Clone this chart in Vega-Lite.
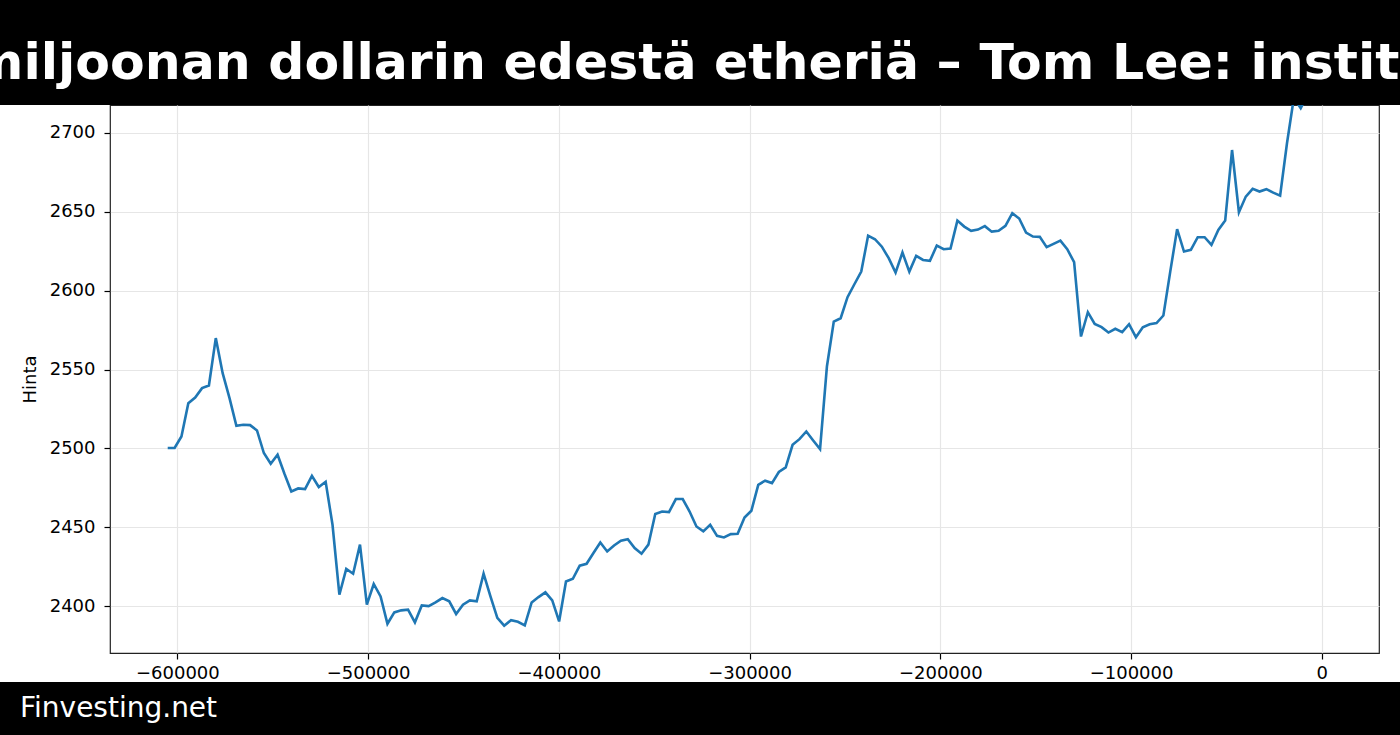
{
  "$schema": "https://vega.github.io/schema/vega-lite/v6.json",
  "autosize": "none",
  "width": 1269,
  "height": 548,
  "padding": {"left": 110, "top": 105, "right": 21, "bottom": 82},
  "background": "white",
  "config": {
    "font": "DejaVu Sans",
    "view": {"stroke": "#222", "strokeWidth": 1.2}
  },
  "layer": [
    {
      "data": {"values": [
        {"t": -605040, "hinta": 2500.3}, {"t": -601440, "hinta": 2500.3}, {"t": -597840, "hinta": 2507.6},
        {"t": -594240, "hinta": 2528.7}, {"t": -590640, "hinta": 2532.3}, {"t": -587040, "hinta": 2538.2},
        {"t": -583440, "hinta": 2539.9}, {"t": -579840, "hinta": 2569.9}, {"t": -576240, "hinta": 2547.7},
        {"t": -572640, "hinta": 2531.9}, {"t": -569040, "hinta": 2514.4}, {"t": -565440, "hinta": 2515.0},
        {"t": -561840, "hinta": 2514.8}, {"t": -558240, "hinta": 2511.4}, {"t": -554640, "hinta": 2497.1},
        {"t": -551040, "hinta": 2490.3}, {"t": -547440, "hinta": 2496.0}, {"t": -543840, "hinta": 2484.0},
        {"t": -540240, "hinta": 2472.8}, {"t": -536640, "hinta": 2474.7}, {"t": -533040, "hinta": 2474.3},
        {"t": -529440, "hinta": 2482.7}, {"t": -525840, "hinta": 2475.6}, {"t": -522240, "hinta": 2478.9},
        {"t": -518640, "hinta": 2451.7}, {"t": -515040, "hinta": 2407.4}, {"t": -511440, "hinta": 2423.7},
        {"t": -507840, "hinta": 2420.7}, {"t": -504240, "hinta": 2439.1}, {"t": -500640, "hinta": 2401.1},
        {"t": -497040, "hinta": 2414.2}, {"t": -493440, "hinta": 2406.3}, {"t": -489840, "hinta": 2389.0},
        {"t": -486240, "hinta": 2396.2}, {"t": -482640, "hinta": 2397.5}, {"t": -479040, "hinta": 2397.9},
        {"t": -475440, "hinta": 2389.9}, {"t": -471840, "hinta": 2400.6}, {"t": -468240, "hinta": 2400.2},
        {"t": -464640, "hinta": 2402.5}, {"t": -461040, "hinta": 2405.3}, {"t": -457440, "hinta": 2403.2},
        {"t": -453840, "hinta": 2395.2}, {"t": -450240, "hinta": 2401.1}, {"t": -446640, "hinta": 2403.8},
        {"t": -443040, "hinta": 2403.2}, {"t": -439440, "hinta": 2420.7}, {"t": -435840, "hinta": 2406.3},
        {"t": -432240, "hinta": 2392.7}, {"t": -428640, "hinta": 2387.8}, {"t": -425040, "hinta": 2391.3},
        {"t": -421440, "hinta": 2390.3}, {"t": -417840, "hinta": 2388.0}, {"t": -414240, "hinta": 2402.5},
        {"t": -410640, "hinta": 2405.9}, {"t": -407040, "hinta": 2408.9}, {"t": -403440, "hinta": 2403.8},
        {"t": -399840, "hinta": 2390.5}, {"t": -396240, "hinta": 2415.8}, {"t": -392640, "hinta": 2417.5},
        {"t": -389040, "hinta": 2425.8}, {"t": -385440, "hinta": 2427.0}, {"t": -381840, "hinta": 2433.8},
        {"t": -378240, "hinta": 2440.5}, {"t": -374640, "hinta": 2434.8}, {"t": -371040, "hinta": 2438.6},
        {"t": -367440, "hinta": 2441.6}, {"t": -363840, "hinta": 2442.6}, {"t": -360240, "hinta": 2437.0},
        {"t": -356640, "hinta": 2433.4}, {"t": -353040, "hinta": 2439.1}, {"t": -349440, "hinta": 2458.5},
        {"t": -345840, "hinta": 2460.1}, {"t": -342240, "hinta": 2459.7}, {"t": -338640, "hinta": 2468.0},
        {"t": -335040, "hinta": 2468.0}, {"t": -331440, "hinta": 2460.1}, {"t": -327840, "hinta": 2450.6},
        {"t": -324240, "hinta": 2447.5}, {"t": -320640, "hinta": 2451.7}, {"t": -317040, "hinta": 2444.7},
        {"t": -313440, "hinta": 2443.7}, {"t": -309840, "hinta": 2445.8}, {"t": -306240, "hinta": 2446.0},
        {"t": -302640, "hinta": 2456.3}, {"t": -299040, "hinta": 2460.6}, {"t": -295440, "hinta": 2477.0},
        {"t": -291840, "hinta": 2479.6}, {"t": -288240, "hinta": 2478.1}, {"t": -284640, "hinta": 2485.1},
        {"t": -281040, "hinta": 2488.0}, {"t": -277440, "hinta": 2502.3}, {"t": -273840, "hinta": 2505.9},
        {"t": -270240, "hinta": 2510.8}, {"t": -266640, "hinta": 2505.1}, {"t": -263040, "hinta": 2499.6},
        {"t": -259440, "hinta": 2551.9}, {"t": -255840, "hinta": 2580.4}, {"t": -252240, "hinta": 2582.5},
        {"t": -248640, "hinta": 2595.8}, {"t": -245040, "hinta": 2604.0}, {"t": -241440, "hinta": 2612.0},
        {"t": -237840, "hinta": 2634.8}, {"t": -234240, "hinta": 2632.5}, {"t": -230640, "hinta": 2627.8},
        {"t": -227040, "hinta": 2620.5}, {"t": -223440, "hinta": 2611.4}, {"t": -219840, "hinta": 2624.1},
        {"t": -216240, "hinta": 2612.0}, {"t": -212640, "hinta": 2622.0}, {"t": -209040, "hinta": 2619.4},
        {"t": -205440, "hinta": 2618.8}, {"t": -201840, "hinta": 2628.5}, {"t": -198240, "hinta": 2626.2},
        {"t": -194640, "hinta": 2626.6}, {"t": -191040, "hinta": 2644.3}, {"t": -187440, "hinta": 2640.5},
        {"t": -183840, "hinta": 2637.8}, {"t": -180240, "hinta": 2638.6}, {"t": -176640, "hinta": 2640.8},
        {"t": -173040, "hinta": 2637.3}, {"t": -169440, "hinta": 2637.8}, {"t": -165840, "hinta": 2641.0},
        {"t": -162240, "hinta": 2649.0}, {"t": -158640, "hinta": 2645.6}, {"t": -155040, "hinta": 2636.7},
        {"t": -151440, "hinta": 2634.2}, {"t": -147840, "hinta": 2634.0}, {"t": -144240, "hinta": 2627.5},
        {"t": -140640, "hinta": 2629.6}, {"t": -137040, "hinta": 2631.6}, {"t": -133440, "hinta": 2626.2},
        {"t": -129840, "hinta": 2618.0}, {"t": -126240, "hinta": 2570.9}, {"t": -122640, "hinta": 2586.3},
        {"t": -119040, "hinta": 2578.9}, {"t": -115440, "hinta": 2576.8}, {"t": -111840, "hinta": 2573.4},
        {"t": -108240, "hinta": 2575.8}, {"t": -104640, "hinta": 2573.7}, {"t": -101040, "hinta": 2578.7},
        {"t": -97440, "hinta": 2570.5}, {"t": -93840, "hinta": 2576.8}, {"t": -90240, "hinta": 2578.7},
        {"t": -86640, "hinta": 2579.4}, {"t": -83040, "hinta": 2584.2}, {"t": -79440, "hinta": 2612.0},
        {"t": -75840, "hinta": 2638.9}, {"t": -72240, "hinta": 2624.7}, {"t": -68640, "hinta": 2625.8},
        {"t": -65040, "hinta": 2633.8}, {"t": -61440, "hinta": 2633.8}, {"t": -57840, "hinta": 2628.9},
        {"t": -54240, "hinta": 2638.4}, {"t": -50640, "hinta": 2644.3}, {"t": -47040, "hinta": 2689.0},
        {"t": -43440, "hinta": 2649.6}, {"t": -39840, "hinta": 2659.5}, {"t": -36240, "hinta": 2664.4},
        {"t": -32640, "hinta": 2662.7}, {"t": -29040, "hinta": 2664.2}, {"t": -25440, "hinta": 2662.0},
        {"t": -21840, "hinta": 2660.1}, {"t": -18240, "hinta": 2693.3}, {"t": -14640, "hinta": 2722.0},
        {"t": -11040, "hinta": 2715.5}, {"t": -7440, "hinta": 2724.0}, {"t": -3840, "hinta": 2729.0},
        {"t": -240, "hinta": 2734.0}
      ]},
      "mark": {"type": "line", "color": "#1f77b4", "strokeWidth": 2.6, "clip": true},
      "encoding": {
        "x": {
          "field": "t",
          "type": "quantitative",
          "scale": {"domain": [-635300, 30000], "nice": false, "zero": false},
          "axis": {
            "title": null,
            "values": [-600000, -500000, -400000, -300000, -200000, -100000, 0],
            "format": "d",
            "domain": false,
            "tickSize": 6,
            "tickColor": "#000",
            "tickWidth": 1.2,
            "labelFontSize": 18,
            "labelColor": "#000",
            "labelPadding": 5,
            "labelFlush": false,
            "labelOverlap": false,
            "gridColor": "#e6e6e6",
            "gridWidth": 1.2
          }
        },
        "y": {
          "field": "hinta",
          "type": "quantitative",
          "scale": {"domain": [2370.5, 2717.5], "nice": false, "zero": false},
          "axis": {
            "title": "Hinta",
            "values": [2400, 2450, 2500, 2550, 2600, 2650, 2700],
            "format": "d",
            "domain": false,
            "tickSize": 6,
            "tickColor": "#000",
            "tickWidth": 1.2,
            "labelFontSize": 18,
            "labelColor": "#000",
            "labelPadding": 9,
            "labelOverlap": false,
            "gridColor": "#e6e6e6",
            "gridWidth": 1.2,
            "titleFontSize": 18,
            "titleFontWeight": "normal",
            "titleColor": "#000",
            "titlePadding": 10
          }
        }
      }
    },
    {
      "data": {"values": [{"band": "otsikko"}]},
      "mark": {"type": "rect", "color": "#000"},
      "encoding": {
        "x": {"datum": -700000},
        "x2": {"datum": 100000},
        "y": {"datum": 2717.5},
        "y2": {"datum": 2800}
      }
    },
    {
      "data": {"values": [{"band": "alapalkki"}]},
      "mark": {"type": "rect", "color": "#000"},
      "encoding": {
        "x": {"datum": -700000},
        "x2": {"datum": 100000},
        "y": {"datum": 2352.1},
        "y2": {"datum": 2290}
      }
    },
    {
      "data": {"values": [{"label": "miljoonan dollarin edestä etheriä – Tom Lee: instit"}]},
      "mark": {"type": "text", "color": "white", "font": "DejaVu Sans", "fontWeight": "bold", "fontSize": 50.5, "align": "center", "baseline": "alphabetic"},
      "encoding": {
        "x": {"datum": -333800},
        "y": {"datum": 2733.8},
        "text": {"field": "label"}
      }
    },
    {
      "data": {"values": [{"label": "Finvesting.net"}]},
      "mark": {"type": "text", "color": "white", "font": "DejaVu Sans", "fontSize": 28, "align": "left", "baseline": "alphabetic"},
      "encoding": {
        "x": {"datum": -682500},
        "y": {"datum": 2329.8},
        "text": {"field": "label"}
      }
    }
  ]
}
